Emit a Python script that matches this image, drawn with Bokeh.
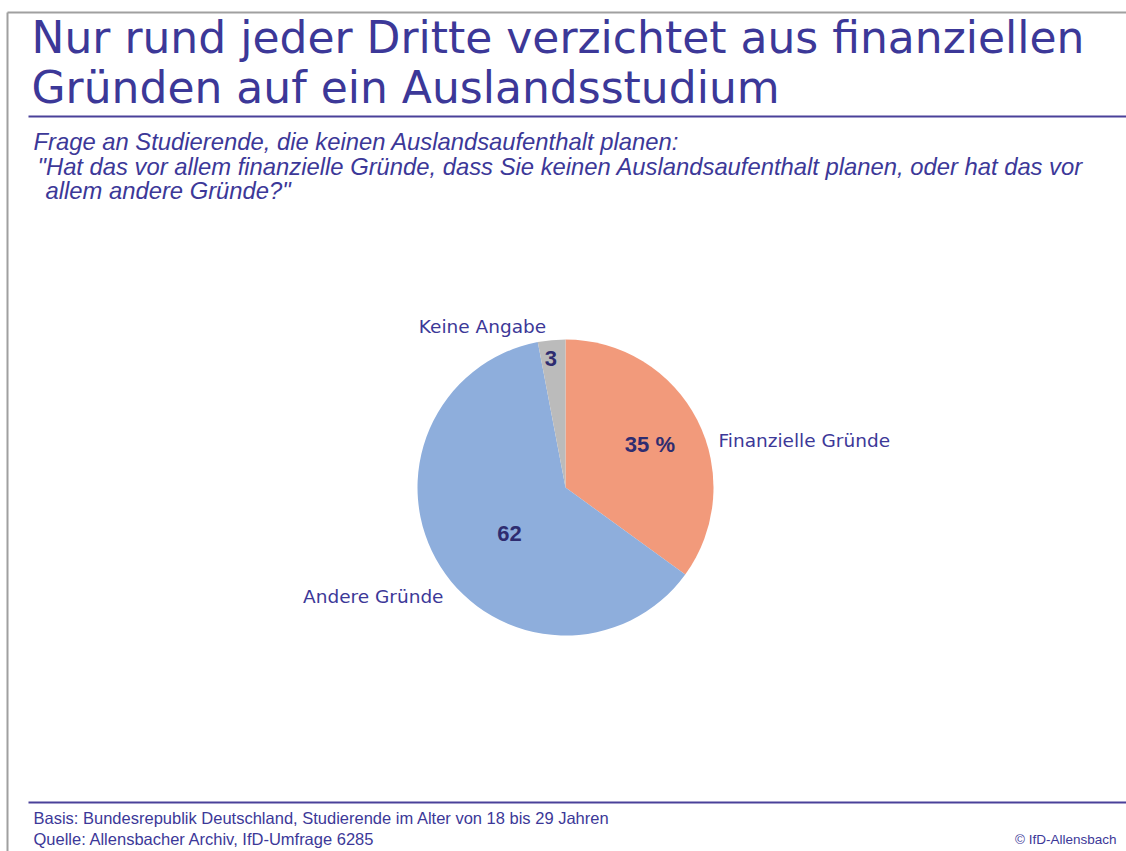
import math
from bokeh.plotting import figure
from bokeh.models import Range1d, ColumnDataSource
from bokeh.core.properties import value
from bokeh.embed import file_html
from bokeh.resources import INLINE

# ---------------- data ----------------
categories = ["Finanzielle Gründe", "Andere Gründe", "Keine Angabe"]
shares = [35, 62, 3]
value_labels = ["35 %", "62", "3"]
colors = ["#F29A7B", "#8EAEDC", "#BBBBBB"]

title_lines = ["Nur rund jeder Dritte verzichtet aus finanziellen",
               "Gründen auf ein Auslandsstudium"]
subtitle_lines = ["Frage an Studierende, die keinen Auslandsaufenthalt planen:",
                  "\"Hat das vor allem finanzielle Gründe, dass Sie keinen Auslandsaufenthalt planen, oder hat das vor",
                  "allem andere Gründe?\""]
footer_left = ["Basis: Bundesrepublik Deutschland, Studierende im Alter von 18 bis 29 Jahren",
               "Quelle: Allensbacher Archiv, IfD-Umfrage 6285"]
footer_right = "© IfD-Allensbach"

# ---------------- layout ----------------
W, H = 1126, 851
K = 0.34  # baseline compensation (fraction of font size)
def X(px):
    return px
def Y(py):
    return H - py
def B(py, fs):  # baseline position for text of font size fs
    return H - py + K * fs

TEXT = "#3C3898"
DARK = "#2E2C70"
LINE = "#4A4199"

p = figure(width=W, height=H, x_range=Range1d(0, W), y_range=Range1d(0, H),
           output_backend="svg", toolbar_location=None,
           x_axis_location=None, y_axis_location=None, min_border=0)
p.grid.visible = False
p.outline_line_color = None
p.background_fill_color = "white"
p.border_fill_color = "white"

# frame lines (top and left gray)
p.line([X(7), X(1126)], [Y(12), Y(12)], line_color="#A0A0A0", line_width=2)
p.line([X(7), X(7)], [Y(12), Y(851)], line_color="#A0A0A0", line_width=2)

# title
fs_t = 44
p.text(x=[X(31)] * 2, y=[B(52, fs_t), B(102, fs_t)], text=title_lines,
       text_font=value("DejaVu Sans"), text_font_size=f"{fs_t}px",
       text_color=TEXT, text_baseline="alphabetic", text_align="left")
p.line([X(28), X(1126)], [Y(116), Y(116)], line_color=LINE, line_width=2)

# subtitle
fs_s = 23.8
p.text(x=[X(33), X(37), X(45)], y=[B(149, fs_s), B(174, fs_s), B(198, fs_s)],
       text=subtitle_lines, text_font=value("Liberation Sans"), text_font_style="italic",
       text_font_size=f"{fs_s}px", text_color=TEXT, text_baseline="alphabetic")

# ---------------- pie ----------------
cx, cy, r = X(565), Y(487), 148
total = sum(shares)
starts, ends, mids = [], [], []
cum = 0
for s in shares:
    a0 = math.pi / 2 - 2 * math.pi * cum / total
    cum += s
    a1 = math.pi / 2 - 2 * math.pi * cum / total
    starts.append(a0); ends.append(a1); mids.append((a0 + a1) / 2)

src = ColumnDataSource(dict(x=[cx] * 3, y=[cy] * 3, start=starts, end=ends,
                            color=colors, cat=categories))
p.wedge(x="x", y="y", radius=r, start_angle="start", end_angle="end",
        direction="clock", fill_color="color", line_color=None, source=src)

# value labels inside slices
rf = [0.64, 0.49, 0.88]
da = [0.0, math.radians(7), math.radians(1)]
lx = [cx + r * f * math.cos(a + d) for f, a, d in zip(rf, mids, da)]
ly = [cy + r * f * math.sin(a + d) for f, a, d in zip(rf, mids, da)]
p.text(x=lx, y=ly, text=value_labels, text_font=value("Liberation Sans"),
       text_font_style="bold", text_font_size="22px", text_color=DARK,
       text_align="center", text_baseline="middle")

# category labels outside
fs_l = 18.5
p.text(x=[X(718)], y=[B(446, fs_l)], text=[categories[0]], text_font=value("DejaVu Sans"),
       text_font_size=f"{fs_l}px", text_color=TEXT, text_align="left", text_baseline="alphabetic")
p.text(x=[X(443)], y=[B(602, fs_l)], text=[categories[1]], text_font=value("DejaVu Sans"),
       text_font_size=f"{fs_l}px", text_color=TEXT, text_align="right", text_baseline="alphabetic")
p.text(x=[X(482)], y=[B(332, fs_l)], text=[categories[2]], text_font=value("DejaVu Sans"),
       text_font_size=f"{fs_l}px", text_color=TEXT, text_align="center", text_baseline="alphabetic")

# footer
p.line([X(28), X(1126)], [Y(802), Y(802)], line_color=LINE, line_width=2)
fs_f = 16.5
p.text(x=[X(33)] * 2, y=[B(823, fs_f), B(844, fs_f)], text=footer_left,
       text_font=value("Liberation Sans"), text_font_size=f"{fs_f}px",
       text_color=TEXT, text_baseline="alphabetic")
p.text(x=[X(1116)], y=[B(844, 13.5)], text=[footer_right],
       text_font=value("Liberation Sans"), text_font_size="13.5px",
       text_color=TEXT, text_align="right", text_baseline="alphabetic")

open("out.html", "w").write(file_html(p, INLINE))
